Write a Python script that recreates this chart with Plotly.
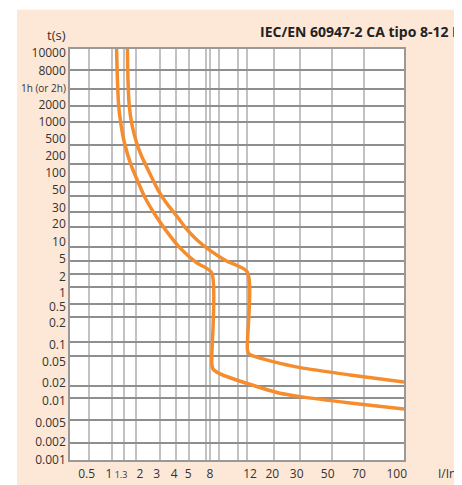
import numpy as np
import plotly.graph_objects as go

# ---------------- data (real units) ----------------
x_tick_values = [0.5, 1, 1.3, 2, 3, 4, 5, 8, 12, 20, 30, 50, 70, 100]
x_tick_labels = ["0.5", "1", "<span style='font-size:9px'>1.3</span>", "2", "3", "4", "5",
                 "8", "12", "20", "30", "50", "70", "100"]
x_extra_grid_values = [7.4, 8.9, 10.9]

y_tick_values = [10000, 8000, 3600, 2000, 1000, 500, 200, 100, 50, 30, 20, 10, 5, 2, 1,
                 0.5, 0.2, 0.1, 0.05, 0.02, 0.01, 0.005, 0.002, 0.001]
y_tick_labels = ["10000", "8000", "<span style='font-size:10px'>1h (or 2h)</span>", "2000", "1000",
                 "500", "200", "100", "50", "30", "20", "10", "5", "2", "1", "0.5", "0.2",
                 "0.1", "0.05", "0.02", "0.01", "0.005", "0.002", "0.001"]

# trip curves: multiples of In  vs  time (s)
curve8_x = [1.11, 1.13, 1.16, 1.22, 1.32, 1.67, 2.07, 2.34, 2.78, 3.42, 4.28, 5.97, 8.2,
            8.2, 8.31, 8.98, 12, 21.9, 30, 60.2, 100]
curve8_t = [10000, 5260, 2000, 914, 531, 192, 100, 46.9, 27.7, 16.8, 9.52, 4.34, 2.15,
            0.0404, 0.0336, 0.0289, 0.0217, 0.0131, 0.0108, 0.00854, 0.00707]

curve12_x = [1.47, 1.50, 1.57, 1.73, 2.02, 2.18, 2.40, 2.92, 3.42, 4.07, 4.75, 6.01, 8.04,
             9.59, 12.2, 12.2, 12.56, 14.3, 19.5, 30, 60.2, 100]
curve12_t = [10000, 5260, 2000, 914, 531, 309, 178, 67.3, 38.7, 26.6, 19.0, 12.7, 8.41,
             5.0, 2.25, 0.0673, 0.0552, 0.0485, 0.0420, 0.0350, 0.0280, 0.0226]

# ---------------- layout / style (schematic grid positions, window pixels) ----------------
X_GRID_POS = [89, 111.7, 124, 136, 159.5, 176, 189, 209.5, 246.5, 274.3, 300, 332.3, 364.3, 404]
X_LABEL_POS = [86.7, 109, 121, 140, 156.7, 174.3, 188.3, 210, 250, 272.3, 296.7, 327.7, 359, 396.7]
Y_GRID_POS = [49.3, 70, 89, 106, 122, 145, 164, 182, 196, 212, 227, 247, 261, 274, 287, 304,
              317, 342, 356, 386, 398, 420, 443, 460]
Y_LABEL_POS = [53.3, 70.7, 88.3, 105, 121.7, 139, 156, 173.3, 190, 207.7, 224, 241.7, 259,
               276.7, 293, 307, 323, 345, 362, 383, 401, 422.7, 442, 459.9]

WIN_W, WIN_H = 462, 485
OFF = 8  # page body margin
W, H = WIN_W - OFF, WIN_H - OFF
X0, X1 = 70, 404
Y0, Y1 = 460, 49.3
L, T = X0 - OFF, 49 - OFF
R, B = WIN_W - X1, WIN_H - Y0

PEACH = "#fde8d7"
ORANGE = "#f58d2e"
FONT = "Open Sans"


def x_scale(v):
    return np.interp(np.log10(v), np.log10(x_tick_values), X_GRID_POS)


def y_scale(v):
    lv = np.log10(y_tick_values)[::-1]
    return np.interp(np.log10(v), lv, np.array(Y_GRID_POS)[::-1])


def px_to_paper(px, py):
    return (px - X0) / (X1 - X0), (Y0 - py) / (Y0 - Y1)


fig = go.Figure()
for cx, ct in [(curve8_x, curve8_t), (curve12_x, curve12_t)]:
    fig.add_trace(go.Scatter(
        x=x_scale(cx), y=y_scale(ct), mode="lines",
        line=dict(color=ORANGE, width=3.5, shape="spline", smoothing=0.7),
        hoverinfo="skip", showlegend=False))

x_minor = list(X_GRID_POS) + list(x_scale(x_extra_grid_values))

fig.update_layout(
    width=W, height=H,
    margin=dict(l=L, r=R, t=T, b=B, pad=0, autoexpand=False),
    paper_bgcolor=PEACH, plot_bgcolor="white",
    font=dict(family=FONT, size=12, color="#333333"),
    showlegend=False,
    xaxis=dict(range=[X0, X1], tickmode="array", tickvals=X_LABEL_POS, ticktext=x_tick_labels,
               showgrid=False, ticks="", zeroline=False, showline=True, mirror=True,
               automargin=False, tickangle=0, ticklabelstandoff=2,
               linecolor="#999999", linewidth=1.5,
               tickfont=dict(family=FONT, size=12, color="#333333"),
               minor=dict(tickmode="array", tickvals=x_minor, showgrid=True,
                          gridcolor="#c2c2c2", gridwidth=2, ticks="")),
    yaxis=dict(range=[Y0, Y1], tickmode="array", tickvals=Y_LABEL_POS, ticktext=y_tick_labels,
               showgrid=False, ticks="", zeroline=False, showline=True, mirror=True,
               automargin=False,
               linecolor="#999999", linewidth=1.5,
               tickfont=dict(family=FONT, size=12, color="#333333"),
               minor=dict(tickmode="array", tickvals=Y_GRID_POS, showgrid=True,
                          gridcolor="#8e8e8e", gridwidth=1.5, ticks="")),
)

# white margin strips (left and top, in window pixels)
lx0, _ = px_to_paper(-20, 0)
lx1, _ = px_to_paper(17, 0)
_, by0 = px_to_paper(0, WIN_H + 20)
_, ty1 = px_to_paper(0, -20)
_, ty0 = px_to_paper(0, 10)
rx1, _ = px_to_paper(WIN_W + 20, 0)
fig.add_shape(type="rect", xref="paper", yref="paper", x0=lx0, x1=lx1, y0=by0, y1=ty1,
              fillcolor="white", line_width=0, layer="above")
fig.add_shape(type="rect", xref="paper", yref="paper", x0=lx0, x1=rx1, y0=ty0, y1=ty1,
              fillcolor="white", line_width=0, layer="above")

# texts
tx, ty = px_to_paper(56.7, 35)
fig.add_annotation(text="t(s)", xref="paper", yref="paper", x=tx, y=ty, showarrow=False,
                   xanchor="center", yanchor="middle", font=dict(family=FONT, size=13, color="#333333"))
ix, iy = px_to_paper(446.7, 473)
fig.add_annotation(text="I/In", xref="paper", yref="paper", x=ix, y=iy, showarrow=False,
                   xanchor="center", yanchor="middle", font=dict(family=FONT, size=12, color="#333333"))
hx, hy = px_to_paper(258, 32)
fig.add_annotation(text="<b>IEC/EN 60947-2 CA tipo 8-12 In</b>", xref="paper", yref="paper",
                   x=hx, y=hy, showarrow=False, xanchor="left", yanchor="middle",
                   font=dict(family=FONT, size=14, color="#222222"))

fig.write_html("out.html")
